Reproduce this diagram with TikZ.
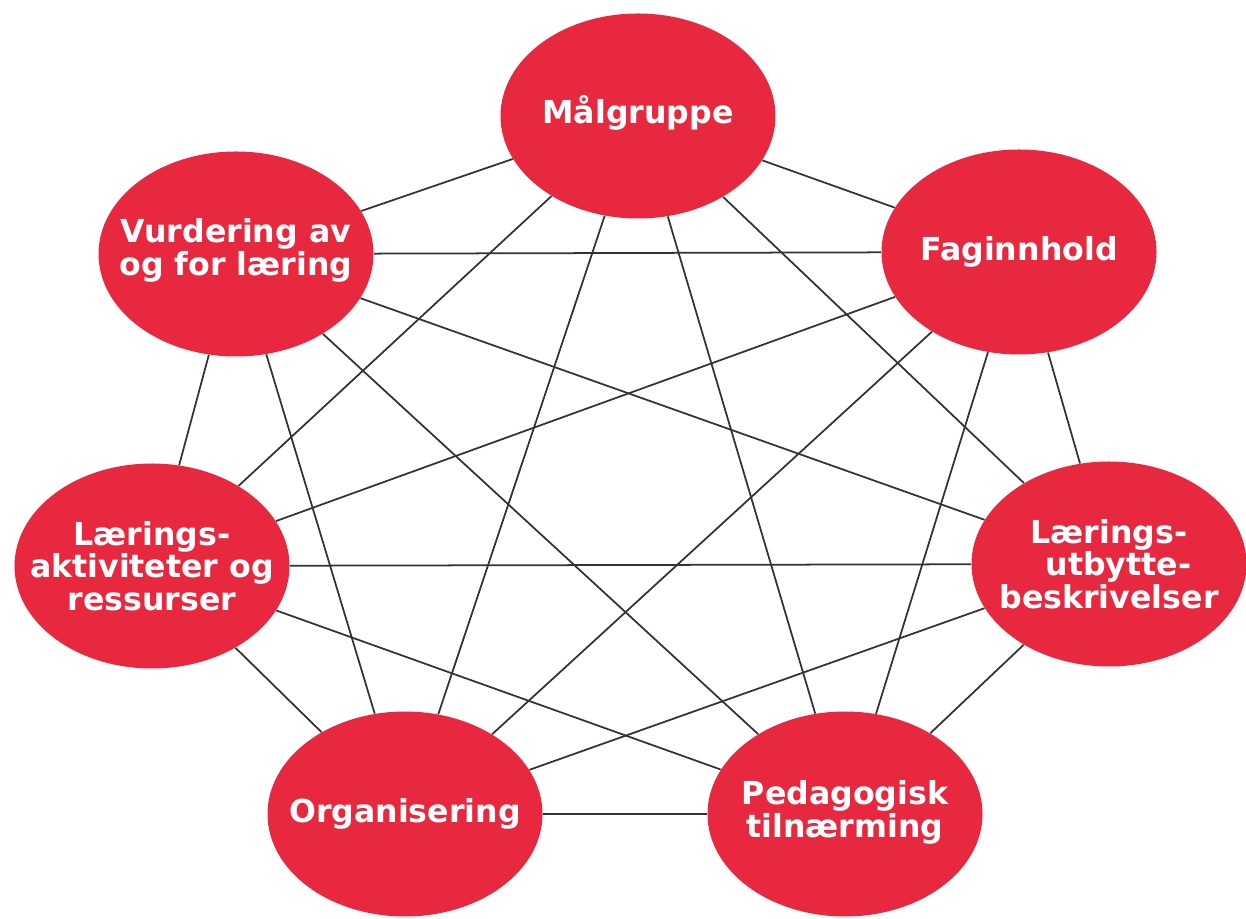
\documentclass[tikz,border=0pt]{standalone}
\usepackage{fontspec}
\setmainfont{DejaVu Sans}
\usepackage{xcolor}
\usetikzlibrary{shapes.geometric}
\definecolor{topicred}{HTML}{E8283F}
\tikzset{
    topic/.style = {ellipse, fill=topicred, minimum width=5.5cm, minimum height=4.1cm, inner sep=0pt},
    topic-text/.style = {text=white, font=\bfseries\fontsize{18}{18.5}\selectfont, align=center, inner sep=0pt},
    link/.style = {draw=black!80, line width=1pt},
}

\begin{document}
\begin{tikzpicture}
\useasboundingbox (0,0) rectangle (24.92,18.36);
\node[topic] (malgruppe) at (12.76,16.04) {};
\node[topic] (faginnhold) at (20.38,13.32) {};
\node[topic] (utbytte) at (22.18,7.08) {};
\node[topic] (pedagogisk) at (16.90,2.08) {};
\node[topic] (organisering) at (8.10,2.08) {};
\node[topic] (aktiviteter) at (3.04,7.04) {};
\node[topic] (vurdering) at (4.72,13.28) {};
% every topic is linked to every other topic
\draw[link] (malgruppe) -- (faginnhold) (malgruppe) -- (utbytte) (malgruppe) -- (pedagogisk)
    (malgruppe) -- (organisering) (malgruppe) -- (aktiviteter) (malgruppe) -- (vurdering);
\draw[link] (faginnhold) -- (utbytte) (faginnhold) -- (pedagogisk) (faginnhold) -- (organisering)
    (faginnhold) -- (aktiviteter) (faginnhold) -- (vurdering);
\draw[link] (utbytte) -- (pedagogisk) (utbytte) -- (organisering) (utbytte) -- (aktiviteter)
    (utbytte) -- (vurdering);
\draw[link] (pedagogisk) -- (organisering) (pedagogisk) -- (aktiviteter) (pedagogisk) -- (vurdering);
\draw[link] (organisering) -- (aktiviteter) (organisering) -- (vurdering);
\draw[link] (aktiviteter) -- (vurdering);
% labels
\node[topic-text] (malgruppe-text) at ([yshift=2pt]malgruppe) {Målgruppe};
\node[topic-text] (faginnhold-text) at (faginnhold) {Faginnhold};
\node[topic-text] (utbytte-text) at (utbytte) {Lærings-\\\hspace{0.6em}utbytte-\\beskrivelser};
\node[topic-text] (pedagogisk-text) at ([yshift=1pt]pedagogisk) {Pedagogisk\\tilnærming};
\node[topic-text] (organisering-text) at (organisering) {Organisering};
\node[topic-text] (aktiviteter-text) at (aktiviteter) {Lærings-\\aktiviteter og\\ressurser};
\node[topic-text] (vurdering-text) at ([yshift=2pt]vurdering) {Vurdering av\\og for læring};
\end{tikzpicture}
\end{document}
